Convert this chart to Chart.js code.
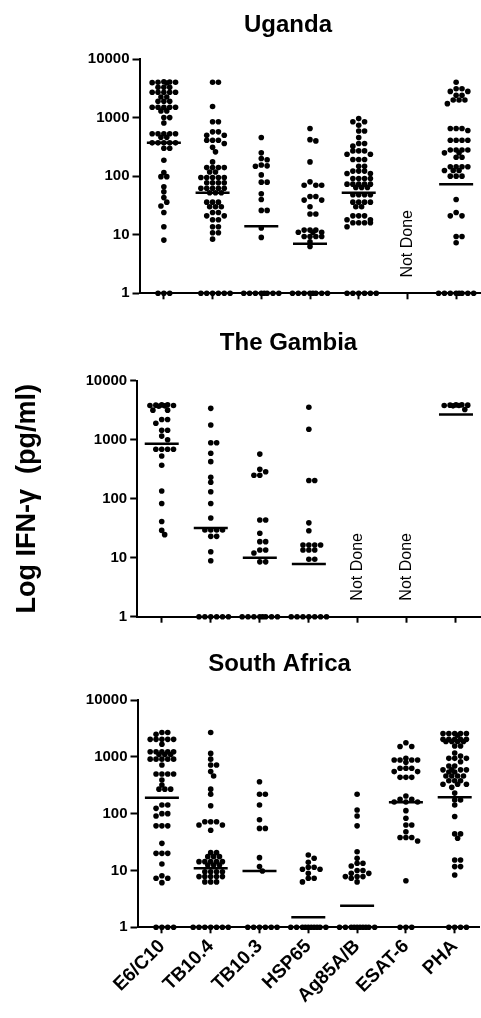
<!DOCTYPE html>
<html>
<head>
<meta charset="utf-8">
<script src="https://cdn.jsdelivr.net/npm/chart.js@4.4.1/dist/chart.umd.min.js"></script>
<style>
  html, body { margin: 0; padding: 0; background: #fff; overflow: hidden; }
  body { width: 481px; height: 1018px; position: relative; }
  canvas { position: absolute; left: 0; }
</style>
</head>
<body>
<canvas id="uganda" width="500" height="320" style="top:0px"></canvas>
<canvas id="gambia" width="500" height="320" style="top:318px"></canvas>
<canvas id="safrica" width="500" height="380" style="top:638px"></canvas>
<script>
const categories = ['E6/C10', 'TB10.4', 'TB10.3', 'HSP65', 'Ag85A/B', 'ESAT-6', 'PHA'];
const yTicks = [1, 10, 100, 1000, 10000];

// IFN-gamma values (pg/ml), one list per antigen
const ugandaValues = [
  [4100, 4050, 4000, 4000, 3950, 3900, 3300, 3300, 3300, 2700, 2700, 2700, 2700, 2700, 2250, 2250,
   1900, 1900, 1900, 1500, 1500, 1500, 1500, 1500, 1300, 1300, 1000, 1000, 810, 530, 530, 530, 530, 530,
   460, 460, 370, 370, 370, 370, 370, 300, 300, 187, 115, 98, 98, 66, 54, 43, 36, 31, 24, 13.7, 8.1, 1, 1, 1],
  [4000, 4000, 1550, 850, 850, 570, 570, 500, 500, 410, 410, 410, 360, 310, 260, 175, 140, 140, 140, 140,
   118, 118, 95, 95, 95, 95, 95, 77, 77, 77, 77, 62, 62, 62, 62, 62, 52, 52, 52, 36, 36, 36, 30, 30, 30,
   24, 24, 21, 21, 18, 18, 13.7, 13.7, 10.8, 10.8, 8.4, 1, 1, 1, 1, 1, 1],
  [457, 250, 200, 190, 155, 150, 148, 105, 79, 79, 50, 40, 26, 26, 13, 9, 1, 1, 1, 1, 1, 1, 1, 1],
  [650, 420, 400, 175, 80, 70, 70, 70, 45, 45, 39, 39, 30, 22.6, 22.6, 12, 12, 12, 11, 11, 11,
   9.3, 9.3, 9.3, 9.3, 7.6, 6.3, 1, 1, 1, 1, 1, 1, 1, 1],
  [960, 850, 850, 740, 590, 590, 457, 360, 360, 325, 270, 270, 270, 237, 237, 192, 192, 192, 148, 148,
   122, 122, 122, 111, 111, 91, 91, 91, 91, 73, 73, 73, 73, 73, 64, 64, 64, 48, 48, 48, 48, 36, 36, 36, 36,
   30, 30, 21, 21, 21, 18, 18, 16, 16, 16, 16, 13.7, 1, 1, 1, 1, 1, 1],
  [],
  [4000, 3100, 3100, 2800, 2800, 2400, 2400, 2000, 2000, 2000, 1730, 650, 650, 650, 600, 410, 410, 410, 410,
   280, 280, 280, 280, 250, 250, 210, 210, 145, 145, 145, 145, 125, 125, 125, 100, 100, 100, 40, 24, 21, 21,
   9.3, 9.3, 7.3, 1, 1, 1, 1, 1, 1, 1, 1]
];
const ugandaMedians = [370, 52, 14, 7, 52, null, 73];
const ugandaNotDone = [5];

const gambiaValues = [
  [3900, 3900, 3850, 3800, 3800, 3750, 3700, 3170, 3170, 2200, 2200, 1900, 1450, 1450, 1150, 1000,
   690, 690, 690, 690, 530, 370, 135, 83, 41, 29, 24.6],
  [3400, 1770, 890, 890, 590, 425, 230, 190, 131, 83, 47, 29.5, 29.5, 29.5, 29.5, 23, 23, 12.6, 8.9,
   1, 1, 1, 1, 1, 1],
  [570, 315, 287, 250, 250, 43.5, 43.5, 26, 18.7, 18.7, 13.5, 13.5, 12, 8.5, 8.5, 1, 1, 1, 1, 1, 1, 1, 1],
  [3540, 1500, 203, 203, 39, 28.6, 16.4, 16.4, 16.4, 16.4, 13.5, 13.5, 13.5, 9.4, 9.4, 1, 1, 1, 1, 1, 1, 1],
  [],
  [],
  [3900, 3900, 3850, 3850, 3800, 3800, 3750, 3250]
];
const gambiaMedians = [850, 32, 10, 7.8, null, null, 2680];
const gambiaNotDone = [4, 5];

const safricaValues = [
  [2680, 2680, 2500, 2030, 2030, 2030, 2030, 2030, 1660, 1230, 1230, 1230, 1230, 1230, 1100, 1100, 1100,
   910, 910, 910, 910, 910, 720, 500, 500, 500, 500, 390, 320, 270, 270, 270, 142, 142, 124, 100, 100, 91,
   61, 61, 61, 30, 20, 20, 20, 13, 8.1, 7.3, 7.3, 6.1, 1, 1, 1, 1],
  [2680, 1150, 910, 720, 720, 550, 460, 270, 220, 138, 72, 72, 72, 63, 63, 51, 20.6, 20.6, 17.5, 17.5, 17.5,
   14.3, 14.3, 14.3, 14.3, 14.3, 12.5, 12.5, 12.5, 9.5, 9.5, 9.5, 9.5, 7.8, 7.8, 7.8, 7.8, 7.8, 6.3, 6.3, 6.3,
   1, 1, 1, 1, 1, 1, 1],
  [365, 220, 220, 142, 78, 55, 55, 16.8, 11.7, 9.8, 1, 1, 1, 1, 1, 1],
  [18.7, 16.4, 13.9, 11.4, 11.4, 10.5, 10.5, 8.9, 7.3, 7.3, 6.3, 1, 1, 1, 1, 1, 1, 1, 1, 1, 1],
  [220, 116, 91, 61, 21.4, 16.4, 13.4, 13.4, 12, 10, 10, 8.9, 8.9, 7.8, 7.8, 7.8, 7.3, 6.3,
   1, 1, 1, 1, 1, 1, 1, 1, 1, 1],
  [1770, 1520, 1520, 940, 880, 880, 880, 880, 800, 630, 630, 630, 550, 550, 435, 435, 435, 205, 178, 178,
   160, 160, 160, 113, 83, 63, 63, 48, 38, 38, 38, 33, 6.6, 1, 1, 1],
  [2570, 2570, 2570, 2570, 2570, 2400, 2030, 2030, 2030, 2030, 2030, 1860, 1860, 1860, 1860, 1550, 1550,
   1170, 1030, 940, 940, 940, 820, 690, 690, 590, 590, 590, 590, 540, 540, 460, 460, 460, 460, 380, 380, 380,
   330, 330, 330, 290, 230, 174, 174, 142, 89, 44, 44, 37, 15.3, 15.3, 11.7, 11.7, 8.3, 1, 1, 1, 1]
];
const safricaMedians = [190, 10.9, 9.8, 1.5, 2.4, 158, 195];
const safricaNotDone = [];

const notDoneAt = 7; // vertical centre of the "Not Done" notes

const FONT = "'Liberation Sans', Arial, sans-serif";

// dot-plot layout: push each dot sideways until it is clear of the ones above it,
// columns stay narrow (wider only for the row sitting on the axis)
const DECADE = 58, CATPX = 50, HALF = 3, GAPX = 6, GAPY = 4.6, MAXW = 14, FLOORW = 22;
function swarm(groups) {
  const pts = [];
  groups.forEach((vals, i) => {
    const placed = [];
    [...vals].sort((a, b) => b - a).forEach(v => {
      const yp = Math.log10(v) * DECADE;
      const lim = v <= yTicks[0] ? FLOORW : MAXW;
      const cands = [0];
      for (let k = 1; k * HALF <= lim; k++) cands.push(k * HALF, -k * HALF);
      const clearance = c => placed.reduce((m, p) =>
        Math.min(m, ((p.x - c) / GAPX) ** 2 + ((p.y - yp) / GAPY) ** 2), Infinity);
      let xp = cands.find(c => clearance(c) >= 1);
      if (xp === undefined) xp = cands.reduce((b, c) => (clearance(c) > clearance(b) ? c : b), cands[0]);
      placed.push({ x: xp, y: yp });
      pts.push({ x: i + xp / CATPX, y: v });
    });
  });
  return pts;
}

const notDonePlugin = {
  id: 'notDone',
  afterDatasetsDraw(chart, args, opts) {
    const { ctx, scales: { x, y } } = chart;
    ctx.save();
    ctx.fillStyle = '#000';
    ctx.font = '16px ' + FONT;
    ctx.textAlign = 'center';
    ctx.textBaseline = 'middle';
    (opts.list || []).forEach(i => {
      ctx.save();
      ctx.translate(x.getPixelForValue(i), y.getPixelForValue(notDoneAt));
      ctx.rotate(-Math.PI / 2);
      ctx.fillText('Not Done', 0, 0);
      ctx.restore();
    });
    ctx.restore();
  }
};

function makeChart(id, title, values, medians, notDone, lay) {
  return new Chart(document.getElementById(id), {
    type: 'scatter',
    data: {
      datasets: [
        {
          data: swarm(values),
          pointRadius: 2.8,
          pointBackgroundColor: '#000',
          pointBorderWidth: 0,
          clip: false
        },
        {
          data: medians.map((m, i) => (m == null ? null : { x: i, y: m })).filter(p => p),
          pointStyle: 'line',
          pointRadius: 17,
          pointBorderColor: '#000',
          pointBorderWidth: 2.5,
          clip: false
        }
      ]
    },
    plugins: [notDonePlugin],
    options: {
      responsive: false,
      animation: false,
      events: [],
      layout: { padding: { top: lay.top, left: lay.padLeft, right: lay.right, bottom: 0 } },
      plugins: {
        legend: { display: false },
        tooltip: { enabled: false },
        title: {
          display: true,
          text: title,
          color: '#000',
          font: { family: FONT, size: 24, weight: 'bold' },
          padding: { top: 0, bottom: lay.titleGap }
        },
        notDone: { list: notDone }
      },
      scales: {
        x: {
          type: 'linear',
          min: -0.5,
          max: 6.5,
          bounds: 'data',
          afterBuildTicks: s => { s.ticks = categories.map((c, i) => ({ value: i })); },
          afterFit: s => { s.height = lay.xHeight; },
          grid: { drawOnChartArea: false, drawTicks: true, tickLength: 6, tickWidth: 2, tickColor: '#000' },
          border: { color: '#000', width: 2 },
          ticks: {
            autoSkip: false,
            minRotation: lay.labels ? 45 : 0,
            maxRotation: lay.labels ? 45 : 0,
            padding: 2,
            color: '#000',
            font: { family: FONT, size: 19, weight: 'bold' },
            callback: v => (lay.labels ? categories[v] : '')
          }
        },
        y: {
          type: 'logarithmic',
          min: 1,
          max: 10000,
          afterBuildTicks: s => { s.ticks = yTicks.map(v => ({ value: v })); },
          afterFit: s => { s.width = lay.left - lay.padLeft; },
          grid: { drawOnChartArea: false, drawTicks: true, tickLength: 7, tickWidth: 2, tickColor: '#000' },
          border: { color: '#000', width: 2 },
          ticks: {
            padding: 3,
            color: '#000',
            font: { family: FONT, size: 15, weight: 'bold' },
            callback: v => String(v)
          },
          title: {
            display: !!lay.yTitle,
            text: lay.yTitle || '',
            color: '#000',
            font: { family: FONT, size: 27, weight: 'bold' },
            // pull the axis title out to the page margin
            padding: { top: 28 - lay.padLeft - 16.2, bottom: 0 }
          }
        }
      }
    }
  });
}

makeChart('uganda', 'Uganda', ugandaValues, ugandaMedians, ugandaNotDone,
  { top: 10.6, right: 9.3, padLeft: 85.3, left: 139.5, xHeight: 26.7, titleGap: 19.6 });
makeChart('gambia', 'The Gambia', gambiaValues, gambiaMedians, gambiaNotDone,
  { top: 10.6, right: 9.6, padLeft: 86.6, left: 137.2, xHeight: 21.3, titleGap: 23.3, yTitle: 'Log IFN-\u03b3  (pg/ml)' });
makeChart('safrica', 'South Africa', safricaValues, safricaMedians, safricaNotDone,
  { top: 11.6, right: 20.9, padLeft: 79.9, left: 137.5, xHeight: 90.7, titleGap: 21.6, labels: true });
</script>
</body>
</html>
